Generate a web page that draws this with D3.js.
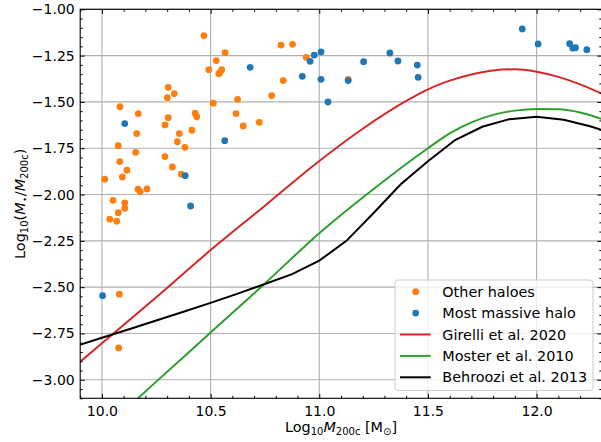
<!DOCTYPE html>
<html>
<head>
<meta charset="utf-8">
<script src="https://cdn.jsdelivr.net/npm/d3@7"></script>
<style>
  body { margin: 0; background: #fff; }
  text { font-family: "DejaVu Sans", sans-serif; }
</style>
</head>
<body>
<div id="chart"></div>
<script>
// Data: [log10 M200c, log10 M*/M200c]
const otherHaloes = [
    [10.469, -1.142], [10.567, -1.234], [10.526, -1.277], [10.492, -1.326],
    [10.551, -1.326], [10.543, -1.340], [10.538, -1.348], [10.305, -1.421],
    [10.333, -1.455], [10.301, -1.477], [10.083, -1.526], [10.512, -1.507],
    [10.624, -1.486], [10.167, -1.563], [10.305, -1.585], [10.429, -1.561],
    [10.436, -1.580], [10.617, -1.563], [10.650, -1.630], [10.724, -1.610],
    [10.290, -1.624], [10.160, -1.671], [10.356, -1.671], [10.414, -1.653],
    [10.347, -1.715], [10.075, -1.736], [10.382, -1.745], [10.155, -1.772],
    [10.290, -1.795], [10.082, -1.822], [10.324, -1.851], [10.115, -1.869],
    [10.094, -1.905], [10.365, -1.890], [10.013, -1.917], [10.166, -1.971],
    [10.176, -1.984], [10.207, -1.970], [10.051, -2.031], [10.105, -2.045],
    [10.105, -2.074], [10.075, -2.098], [10.036, -2.133], [10.068, -2.144],
    [10.080, -2.538], [10.077, -2.828], [10.824, -1.193], [10.877, -1.189],
    [10.940, -1.259], [10.834, -1.385], [10.781, -1.466], [11.133, -1.378]
];

const mostMassive = [
    [10.682, -1.313], [10.105, -1.617], [10.565, -1.709], [10.383, -1.898],
    [10.408, -2.062], [10.003, -2.546], [10.958, -1.281], [10.977, -1.247],
    [11.008, -1.230], [10.922, -1.362], [11.008, -1.378], [11.040, -1.500],
    [11.204, -1.283], [11.133, -1.385], [11.325, -1.236], [11.362, -1.279],
    [11.451, -1.301], [11.455, -1.367], [11.934, -1.106], [12.007, -1.187],
    [12.152, -1.186], [12.167, -1.210], [12.179, -1.207], [12.231, -1.218]
];

const girelli = [
    [9.9, -2.902], [10.0, -2.803], [10.25, -2.555], [10.5, -2.300],
    [10.75, -2.060], [11.0, -1.819], [11.2, -1.645], [11.4, -1.495],
    [11.5, -1.432], [11.6, -1.385], [11.7, -1.352], [11.8, -1.330],
    [11.9, -1.324], [12.0, -1.337], [12.1, -1.365], [12.2, -1.405], [12.3, -1.455]
];

const moster = [
    [10.1, -3.170], [10.25, -3.010], [10.5, -2.745], [10.75, -2.480],
    [11.0, -2.209], [11.25, -1.970], [11.5, -1.750], [11.6, -1.670],
    [11.7, -1.610], [11.8, -1.570], [11.9, -1.547], [12.0, -1.538],
    [12.1, -1.540], [12.2, -1.557], [12.3, -1.592]
];

const behroozi = [
    [9.875, -2.820], [10.0, -2.773], [10.125, -2.727], [10.25, -2.680],
    [10.375, -2.633], [10.5, -2.585], [10.625, -2.535], [10.75, -2.483],
    [10.875, -2.430], [11.0, -2.357], [11.125, -2.250], [11.25, -2.100],
    [11.375, -1.945], [11.5, -1.820], [11.625, -1.706], [11.75, -1.634],
    [11.875, -1.593], [12.0, -1.580], [12.125, -1.596], [12.25, -1.633],
    [12.375, -1.680]
];

const xTicks = [10.0, 10.5, 11.0, 11.5, 12.0];
const yTicks = [-1.0, -1.25, -1.5, -1.75, -2.0, -2.25, -2.5, -2.75, -3.0];

const legendItems = [
    { label: "Other haloes", color: "#ff7f0e", type: "dot" },
    { label: "Most massive halo", color: "#1f77b4", type: "dot" },
    { label: "Girelli et al. 2020", color: "#d62728", type: "line" },
    { label: "Moster et al. 2010", color: "#2ca02c", type: "line" },
    { label: "Behroozi et al. 2013", color: "#000000", type: "line" }
];

const margin = { top: 9.3, right: -0.8, bottom: 43.7, left: 80.2 };
const width = 601 - margin.left - margin.right;
const height = 442 - margin.top - margin.bottom;

const svg = d3.select("#chart")
    .append("svg")
    .attr("width", 601)
    .attr("height", 442)
    .append("g")
    .attr("transform", `translate(${margin.left},${margin.top})`);

const x = d3.scaleLinear().domain([9.9, 12.3]).range([0, width]);
const y = d3.scaleLinear().domain([-3.1, -1.0]).range([height, 0]);

svg.append("clipPath").attr("id", "plot-clip")
    .append("rect").attr("width", width).attr("height", height);

// Grid
const grid = svg.append("g").attr("stroke", "#b0b0b0").attr("stroke-width", 1.1);
grid.selectAll(".gx").data(xTicks).enter().append("line")
    .attr("x1", d => x(d)).attr("x2", d => x(d))
    .attr("y1", 0).attr("y2", height);
grid.selectAll(".gy").data(yTicks).enter().append("line")
    .attr("x1", 0).attr("x2", width)
    .attr("y1", d => y(d)).attr("y2", d => y(d));

// Model curves
const plot = svg.append("g").attr("clip-path", "url(#plot-clip)");

const smooth = d3.line()
    .x(d => x(d[0]))
    .y(d => y(d[1]))
    .curve(d3.curveMonotoneX);

const straight = d3.line()
    .x(d => x(d[0]))
    .y(d => y(d[1]));

plot.append("path").datum(girelli)
    .attr("fill", "none").attr("stroke", "#d62728").attr("stroke-width", 2)
    .attr("d", smooth);
plot.append("path").datum(moster)
    .attr("fill", "none").attr("stroke", "#2ca02c").attr("stroke-width", 2)
    .attr("d", smooth);
plot.append("path").datum(behroozi)
    .attr("fill", "none").attr("stroke", "#000").attr("stroke-width", 2)
    .attr("d", straight);

// Haloes (blue drawn above orange)
plot.selectAll(".other").data(otherHaloes).enter().append("circle")
    .attr("cx", d => x(d[0])).attr("cy", d => y(d[1]))
    .attr("r", 3.4).attr("fill", "#ff7f0e");
plot.selectAll(".massive").data(mostMassive).enter().append("circle")
    .attr("cx", d => x(d[0])).attr("cy", d => y(d[1]))
    .attr("r", 3.4).attr("fill", "#1f77b4");

// Axes: ticks point inward on all four sides
const xMinor = d3.range(99, 124).map(d => d / 10).filter(d => !xTicks.includes(d));
const yMinor = d3.range(-62, -19).map(d => d / 20).filter(d => !yTicks.includes(d));

function styleAxis(g) {
    g.select(".domain").remove();
    g.selectAll("line").attr("stroke", "#000").attr("stroke-width", 1);
    g.selectAll("text").attr("font-size", "14px").attr("fill", "#000")
        .attr("font-family", "DejaVu Sans");
}

svg.append("g").attr("transform", `translate(0,${height})`)
    .call(d3.axisBottom(x).tickValues(xTicks).tickFormat(d3.format(".1f"))
        .tickSize(-4.5).tickPadding(7.5))
    .call(styleAxis);
svg.append("g").attr("transform", `translate(0,${height})`)
    .call(d3.axisBottom(x).tickValues(xMinor).tickFormat("").tickSize(-2.5))
    .call(styleAxis);
svg.append("g")
    .call(d3.axisTop(x).tickValues(xTicks).tickFormat("").tickSize(-4.5))
    .call(styleAxis);
svg.append("g")
    .call(d3.axisTop(x).tickValues(xMinor).tickFormat("").tickSize(-2.5))
    .call(styleAxis);

svg.append("g")
    .call(d3.axisLeft(y).tickValues(yTicks).tickFormat(d3.format(".2f"))
        .tickSize(-4.5).tickPadding(5.5))
    .call(styleAxis);
svg.append("g")
    .call(d3.axisLeft(y).tickValues(yMinor).tickFormat("").tickSize(-2.5))
    .call(styleAxis);
svg.append("g").attr("transform", `translate(${width},0)`)
    .call(d3.axisRight(y).tickValues(yTicks).tickFormat("").tickSize(-4.5))
    .call(styleAxis);
svg.append("g").attr("transform", `translate(${width},0)`)
    .call(d3.axisRight(y).tickValues(yMinor).tickFormat("").tickSize(-2.5))
    .call(styleAxis);

// Frame
svg.append("rect")
    .attr("width", width).attr("height", height)
    .attr("fill", "none").attr("stroke", "#000").attr("stroke-width", 1.1);

// Legend
const legend = svg.append("g").attr("transform", `translate(${395 - margin.left},${280 - margin.top})`);
legend.append("rect")
    .attr("width", 198).attr("height", 110.5).attr("rx", 3)
    .attr("fill", "#fff").attr("fill-opacity", 0.8)
    .attr("stroke", "#cccccc").attr("stroke-width", 1);

const rows = legend.selectAll(".row").data(legendItems).enter().append("g")
    .attr("transform", (d, i) => `translate(0,${11.7 + i * 21.4})`);
rows.filter(d => d.type === "dot").append("circle")
    .attr("cx", 20.7).attr("cy", 0).attr("r", 3.4).attr("fill", d => d.color);
rows.filter(d => d.type === "line").append("line")
    .attr("x1", 5).attr("x2", 35.7).attr("y1", 0).attr("y2", 0)
    .attr("stroke", d => d.color).attr("stroke-width", 2);
rows.append("text")
    .attr("x", 47.3).attr("dy", "0.36em")
    .attr("font-size", "14.4px")
    .text(d => d.label);

// Axis labels
const xl = svg.append("text")
    .attr("x", width / 2).attr("y", 432 - margin.top)
    .attr("text-anchor", "middle").attr("font-size", "14.4px");
xl.append("tspan").text("Log");
xl.append("tspan").attr("font-size", "10px").attr("dy", 3).text("10");
xl.append("tspan").attr("font-style", "italic").attr("dy", -3).text("M");
xl.append("tspan").attr("font-size", "10px").attr("dy", 3).text("200c");
xl.append("tspan").attr("dy", -3).text(" [M");
xl.append("tspan").attr("font-size", "10px").attr("dy", 3).text("\u2299");
xl.append("tspan").attr("dy", -3).text("]");

const yl = svg.append("text")
    .attr("transform", `translate(${25 - margin.left},${height / 2}) rotate(-90)`)
    .attr("text-anchor", "middle").attr("font-size", "14.4px");
yl.append("tspan").text("Log");
yl.append("tspan").attr("font-size", "10px").attr("dy", 3).text("10");
yl.append("tspan").attr("dy", -3).text("(");
yl.append("tspan").attr("font-style", "italic").text("M");
yl.append("tspan").attr("font-size", "10px").attr("dy", 3).text("\u22c6");
yl.append("tspan").attr("dy", -3).text("/");
yl.append("tspan").attr("font-style", "italic").text("M");
yl.append("tspan").attr("font-size", "10px").attr("dy", 3).text("200c");
yl.append("tspan").attr("dy", -3).text(")");
</script>
</body>
</html>
